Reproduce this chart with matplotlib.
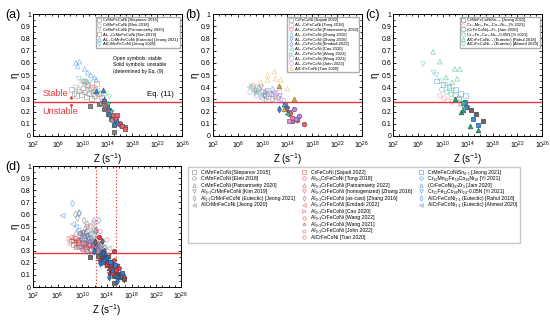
import matplotlib
matplotlib.use('Agg')
import matplotlib.pyplot as plt
import matplotlib.colors as mcolors
from matplotlib.lines import Line2D
from matplotlib.ticker import FixedLocator, FuncFormatter, MultipleLocator, LogFormatterMathtext, NullFormatter
import numpy as np

plt.rcParams['font.family'] = ['Liberation Sans', 'DejaVu Sans']
plt.rcParams['mathtext.fontset'] = 'custom'
plt.rcParams['mathtext.rm'] = 'Liberation Sans'
plt.rcParams['mathtext.it'] = 'Liberation Sans:italic'

# each point: (log10 Z, eta); *_u lists hold the unstable (solid) points
# --- CrMnFeCoNi family, panel (a)
stepanov2015 = [(8.2, .38), (8.6, .35), (9.0, .33), (9.4, .37), (9.8, .34), (10.2, .36), (10.6, .32),
                (11.0, .35), (11.4, .31), (11.8, .33)]
stepanov2015_u = [(11.2, .25), (12.6, .26), (13.4, .22), (14.0, .18), (14.6, .14), (15.1, .09),
                  (15.1, .03), (16.0, .10), (16.8, .07)]
eleti2018 = [(8.8, .40), (9.3, .38), (9.7, .42), (10.1, .39), (10.5, .36), (10.9, .41), (11.3, .37),
             (11.7, .34), (12.1, .32)]
eleti2018_u = [(13.0, .27), (13.6, .23), (14.2, .19), (14.8, .13), (15.5, .11)]
patnamsetty2020 = [(10.0, .44), (10.6, .40), (11.2, .38), (11.8, .36), (12.4, .34), (12.9, .31)]
patnamsetty2020_u = [(13.2, .26), (13.8, .21), (14.4, .16), (15.2, .12), (16.0, .08)]
kim2019 = [(10.2, .45), (10.8, .42), (11.4, .40), (12.0, .38), (12.6, .35), (13.0, .32), (12.2, .43)]
kim2019_u = [(13.4, .29), (13.9, .25), (14.3, .21), (14.8, .17), (15.3, .14), (15.8, .11),
             (16.3, .08), (16.8, .06), (15.6, .17)]
jeong2021e = [(8.9, .60), (9.5, .61), (9.2, .57), (10.3, .55), (10.8, .52), (11.3, .50), (11.9, .48),
              (10.6, .45), (12.2, .46)]
jeong2021e_u = [(12.1, .37), (13.2, .38), (13.5, .30), (14.0, .24), (14.3, .18), (15.1, .10), (15.6, .12)]
jeong2020 = [(9.4, .47), (10.0, .45), (10.6, .43), (11.2, .44), (11.8, .40), (12.4, .37), (13.0, .35),
             (14.3, .32), (13.6, .33)]
jeong2020_u = [(14.1, .26), (14.6, .20)]

# --- CrFeCoNi family, panel (b)
sajadi2022 = [(10.5, .33), (11.5, .31)]
sajadi2022_u = [(14.8, .12)]
tong2018 = [(9.0, .40), (10.0, .37), (11.0, .35), (12.0, .33)]
tong2018_u = [(13.6, .26), (14.2, .20), (14.8, .15)]
patnamsetty2022 = [(8.5, .41), (9.5, .39), (10.5, .36), (11.5, .34), (12.5, .31)]
patnamsetty2022_u = [(13.8, .24), (14.5, .19), (15.5, .13), (16.7, .10)]
zhang2016h = [(9.2, .38), (10.2, .36), (11.2, .34), (12.2, .32)]
zhang2016h_u = [(13.4, .26)]
zhang2016c = [(9.8, .40), (10.8, .37), (11.8, .35), (12.8, .33)]
zhang2016c_u = [(13.9, .22)]
emdadi2022 = [(8.8, .37), (10.4, .34), (11.6, .38), (13.0, .30)]
emdadi2022_u = [(12.7, .22)]
cao2020 = [(7.9, .40), (8.6, .38), (9.4, .36), (10.2, .33)]
cao2020_u = [(14.0, .18)]
wang2022 = [(8.3, .41), (9.1, .35), (9.9, .32), (10.7, .30)]
wang2022_u = []
wang2021 = [(11.0, .32), (12.0, .30), (13.2, .29), (12.6, .36)]
wang2021_u = [(14.3, .12)]
john2022 = [(8.0, .36), (9.0, .33), (10.0, .31), (12.2, .35)]
john2022_u = [(15.1, .22), (15.9, .16), (15.4, .14)]
tian2020 = [(10.8, .50), (11.9, .53), (10.8, .46), (12.1, .47), (12.9, .46), (14.0, .39), (9.7, .44)]
tian2020_u = [(12.7, .41), (15.1, .30), (13.5, .22)]

# --- other alloys, panel (c)
jeong2021sn = [(12.5, .30), (13.0, .27)]
jeong2021sn_u = [(14.5, .21), (15.3, .18), (16.4, .12)]
yi2021 = [(9.5, .33), (10.2, .31), (10.8, .29), (11.5, .28), (12.2, .30), (12.8, .26)]
yi2021_u = [(13.8, .24)]
jain2020 = [(9.0, .45), (10.0, .42), (11.0, .40), (12.0, .38), (12.8, .35), (13.6, .33)]
jain2020_u = [(13.5, .28), (13.7, .24), (14.8, .14), (15.6, .09)]
yi2021n = [(9.8, .38), (10.6, .36), (11.3, .34), (12.0, .33), (12.6, .31)]
yi2021n_u = [(13.3, .27)]
rahul2018 = [(8.4, .69), (9.5, .61), (11.9, .55), (12.7, .55), (10.5, .48), (11.5, .44), (12.3, .47)]
rahul2018_u = [(11.9, .30), (12.9, .20), (13.2, .21), (14.3, .085), (15.6, .05)]
ahmed2020 = [(6.8, .59), (8.5, .52), (9.0, .50), (9.6, .45), (10.4, .42), (11.0, .40), (11.6, .37)]
ahmed2020_u = [(13.4, .22)]

labels_a = ['CrMnFeCoNi [Stepanov 2015]', 'CrMnFeCoNi [Eleti 2018]', 'CrMnFeCoNi [Patnamsetty 2020]',
            'Al₀.₃CrMnFeCoNi [Kim 2019]', 'Al₁.₇CrMnFeCoNi (Eutectic) [Jeong 2021]',
            'AlCrMnFeCoNi [Jeong 2020]']
labels_b = ['CrFeCoNi [Sajadi 2022]', 'Al₀.₁CrFeCoNi [Tong 2018]', 'Al₀.₃CrFeCoNi [Patnamsetty 2022]',
            'Al₀.₃CrFeCoNi (homogenized) [Zhang 2016]', 'Al₀.₃CrFeCoNi (as-cast) [Zhang 2016]',
            'Al₀.₃CrFeCoNi [Emdadi 2022]', 'Al₀.₃CrFeCoNi [Cao 2020]', 'Al₀.₃CrFeCoNi [Wang 2022]',
            'Al₀.₃CrFeCoNi [Wang 2021]', 'Al₀.₃CrFeCoNi [John 2022]', 'AlCrFeCoNi [Tian 2020]']
labels_c = ['CrMnFeCoNiSn₀.₅ [Jeong 2021]', 'Cr₂₀Mn₁₀Fe₃₀Co₃₀Ni₁₀ [Yi 2021]',
            '(CrFeCoNi)₉₇Zr₃ [Jain 2020]', 'Cr₂₅Fe₁₁Co₄₀Ni₂₄-0.05N [Yi 2021]',
            'AlCrFeCoNi₂.₁ (Eutectic) [Rahul 2018]', 'AlCrFeCoNi₂.₁ (Eutectic) [Ahmed 2020]']

RED = '#e8353a'
group_colors = ['#6f6f6f', '#e8424a', '#2f7fd8']

# (open pts, solid pts, marker in a-c, colour in a-c, marker in d)
panel_a = [(stepanov2015, stepanov2015_u, 's', '#858585', 's'),
           (eleti2018, eleti2018_u, 'o', '#a5a5a5', 'o'),
           (patnamsetty2020, patnamsetty2020_u, 'v', '#9a9a9a', '^'),
           (kim2019, kim2019_u, 's', '#ef5f6e', 'v'),
           (jeong2021e, jeong2021e_u, '^', '#3b8fdc', 'd'),
           (jeong2020, jeong2020_u, 'v', '#52cfa5', '<')]
panel_b = [(sajadi2022, sajadi2022_u, 's', '#8a8a8a', 's'),
           (tong2018, tong2018_u, 's', '#f07c86', 'o'),
           (patnamsetty2022, patnamsetty2022_u, 'o', '#f0606a', '^'),
           (zhang2016h, zhang2016h_u, '^', '#5aa2e8', 'v'),
           (zhang2016c, zhang2016c_u, 'v', '#4a85dc', 'd'),
           (emdadi2022, emdadi2022_u, 'd', '#3a7fdb', '<'),
           (cao2020, cao2020_u, '<', '#46c795', '>'),
           (wang2022, wang2022_u, '>', '#34b576', 'h'),
           (wang2021, wang2021_u, 's', '#e58ae0', '*'),
           (john2022, john2022_u, 'o', '#b784e6', 'p'),
           (tian2020, tian2020_u, '^', '#e3b445', '8')]
panel_c = [(jeong2021sn, jeong2021sn_u, 's', '#666666', 's'),
           (yi2021, yi2021_u, 'o', '#f08088', 'h'),
           (jain2020, jain2020_u, 's', '#3d8fe0', '^'),
           (yi2021n, yi2021n_u, 'o', '#3fbf88', 'v'),
           (rahul2018, rahul2018_u, '^', '#2ea878', 'd'),
           (ahmed2020, ahmed2020_u, 'v', '#5cc4b4', '<')]


def darker(c, f=0.6):
    r, g, b = mcolors.to_rgb(c)
    return (r * f, g * f, b * f)


def draw(ax, open_pts, solid_pts, marker, color):
    if open_pts:
        z, e = zip(*open_pts)
        ax.scatter(10.0 ** np.array(z), e, marker=marker, facecolors='none', edgecolors=color,
                   alpha=0.5, s=11, linewidths=0.6, zorder=2)
    if solid_pts:
        z, e = zip(*solid_pts)
        ax.scatter(10.0 ** np.array(z), e, marker=marker, color=color, edgecolors=darker(color),
                   s=11, linewidths=0.5, zorder=3)


def style(ax):
    ax.set_xscale('log')
    ax.set_xlim(1e2, 1e26)
    ax.set_ylim(0, 1)
    ax.xaxis.set_major_locator(FixedLocator([10.0 ** k for k in range(2, 27, 4)]))
    ax.xaxis.set_minor_locator(FixedLocator([10.0 ** k for k in range(2, 27)]))
    ax.xaxis.set_major_formatter(LogFormatterMathtext())
    ax.xaxis.set_minor_formatter(NullFormatter())
    ax.yaxis.set_major_locator(MultipleLocator(0.1))
    ax.yaxis.set_minor_locator(MultipleLocator(0.05))
    ax.yaxis.set_major_formatter(FuncFormatter(lambda v, p: '%g' % round(v, 1)))
    ax.tick_params(which='both', direction='in', top=True, right=True, labelsize=5, width=0.6, pad=1.5)
    ax.tick_params(axis='x', which='major', pad=2.5)
    ax.tick_params(which='major', length=2.5)
    ax.tick_params(which='minor', length=1.5)
    for s in ax.spines.values():
        s.set_linewidth(0.7)
    ax.axhline(0.28, color=RED, lw=1, zorder=1)
    ax.set_xlabel('Z (s$^{-1}$)', fontsize=7, labelpad=0.5)
    ax.set_ylabel('η', fontsize=7, labelpad=1)


def handle(marker, color):
    return Line2D([], [], linestyle='none', marker=marker, markerfacecolor='none',
                  markeredgecolor=color, markersize=2.6, markeredgewidth=0.5, alpha=0.7)


fig = plt.figure(figsize=(5.5, 3.2), dpi=100)
ax_a = fig.add_axes([0.060, 0.575, 0.271, 0.381])
ax_b = fig.add_axes([0.387, 0.575, 0.271, 0.381])
ax_c = fig.add_axes([0.715, 0.575, 0.271, 0.381])
ax_d = fig.add_axes([0.060, 0.103, 0.269, 0.378])

for ax, series, labels in [(ax_a, panel_a, labels_a), (ax_b, panel_b, labels_b), (ax_c, panel_c, labels_c)]:
    style(ax)
    hs = []
    for op, sp, mk, col, mk_d in series:
        draw(ax, op, sp, mk, col)
        hs.append(handle(mk, col))
    labs = [l.replace(' (homogenized)', '').replace(' (as-cast)', '') for l in labels]
    ax.legend(hs, labs, loc='upper right', fontsize=3, frameon=True, edgecolor='#999999', fancybox=False,
              borderaxespad=0.6, handletextpad=0.4, labelspacing=0.2, borderpad=0.4, handlelength=1.0)

# panel (d): all data, coloured by alloy family
style(ax_d)
ax_d.axvline(10 ** 12.3, color=RED, ls=':', lw=0.9)
ax_d.axvline(10 ** 15.5, color=RED, ls=':', lw=0.9)
d_handles, d_labels = [], []
blank = Line2D([], [], linestyle='none', marker='')
for series, labels, gc in [(panel_a, labels_a, group_colors[0]), (panel_b, labels_b, group_colors[1]),
                           (panel_c, labels_c, group_colors[2])]:
    for op, sp, mk, col, mk_d in series:
        draw(ax_d, op, sp, mk_d, gc)
        d_handles.append(handle(mk_d, gc))
    d_labels += labels
    pad = 11 - len(labels)
    d_handles += [blank] * pad
    d_labels += [''] * pad

fig.legend(d_handles, d_labels, loc='upper left', bbox_to_anchor=(0.338, 0.486), ncol=3, fontsize=3.7,
           frameon=True, edgecolor='#bbbbbb', fancybox=False, handletextpad=0.7, labelspacing=0.3,
           columnspacing=1.1, borderpad=0.5, handlelength=1.3)

# annotations in (a)
ax_a.text(10 ** 3.6, 0.345, 'Stable', color=RED, fontsize=6.5, va='center')
ax_a.text(10 ** 3.5, 0.205, 'Unstable', color=RED, fontsize=6.5, va='center')
ax_a.annotate('', xy=(10 ** 8.2, 0.355), xytext=(10 ** 8.2, 0.28),
              arrowprops=dict(arrowstyle='-|>', color=RED, lw=0.7, mutation_scale=4))
ax_a.annotate('', xy=(10 ** 8.2, 0.205), xytext=(10 ** 8.2, 0.28),
              arrowprops=dict(arrowstyle='-|>', color=RED, lw=0.7, mutation_scale=4))
ax_a.text(10 ** 20.4, 0.31, 'Eq. (11)', fontsize=5.5, va='bottom')
ax_a.text(10 ** 14.9, 0.66, 'Open symbols: stable\nSolid symbols: unstable\n(determined by Eq. (9)',
          fontsize=3.6, va='top', linespacing=1.4)

fig.text(0.010, 0.953, '(a)', fontsize=9, va='center')
fig.text(0.337, 0.953, '(b)', fontsize=9, va='center')
fig.text(0.665, 0.953, '(c)', fontsize=9, va='center')
fig.text(0.010, 0.478, '(d)', fontsize=9, va='center')

fig.savefig('out.png', dpi=100)
